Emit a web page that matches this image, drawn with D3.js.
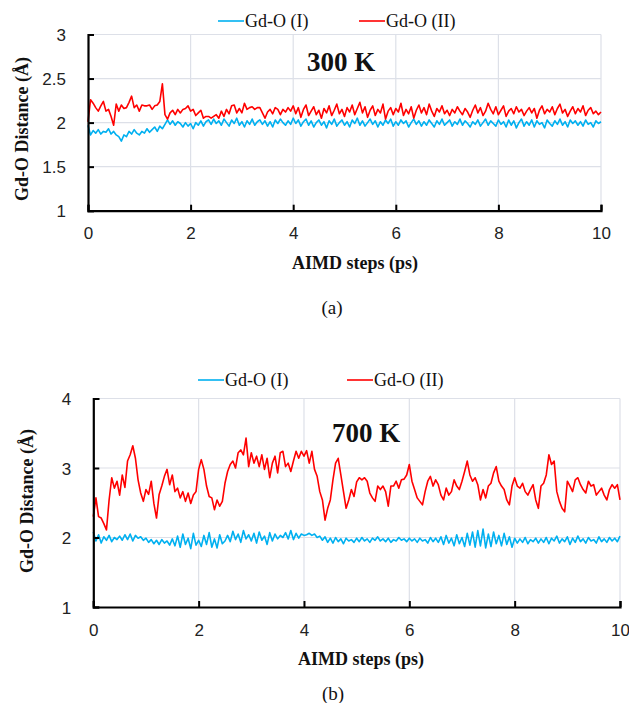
<!DOCTYPE html>
<html>
<head>
<meta charset="utf-8">
<script src="https://cdn.jsdelivr.net/npm/d3@7"></script>
<style>
  html, body { margin: 0; padding: 0; background: #fff; }
  svg { display: block; }
  .tick text { font-family: "Liberation Sans", Arial, sans-serif; font-size: 17px; fill: #222; }
  .serif { font-family: "Liberation Serif", "Times New Roman", serif; fill: #111; }
</style>
</head>
<body>
<svg id="chart" width="629" height="703"></svg>
<script>
// ---- data (Gd-O distances in Å, one value every 0.05 ps) ----
const timeStep = 0.05;
const xTicks = [0, 2, 4, 6, 8, 10];
const yTicks300 = [1, 1.5, 2, 2.5, 3];
const yTicks700 = [1, 2, 3, 4];
const seriesNames = ['Gd-O (I)', 'Gd-O (II)'];
const seriesColors = ['#00B0F0', '#FF0000'];

const gdO1_300K = [
  1.97, 1.86, 1.91, 1.88, 1.92, 1.87, 1.90, 1.89, 1.93, 1.87, 1.90,
  1.86, 1.84, 1.79, 1.86, 1.84, 1.90, 1.87, 1.92, 1.88, 1.86,
  1.90, 1.88, 1.93, 1.89, 1.92, 1.95, 1.90, 1.96, 1.93, 1.98,
  2.03, 1.98, 2.02, 1.97, 2.01, 1.99, 1.95, 2.00, 1.96, 1.99,
  1.93, 2.00, 1.97, 2.02, 1.96, 2.01, 2.03, 1.98, 2.04, 1.99,
  2.02, 1.97, 2.04, 2.00, 1.96, 2.03, 1.99, 2.05, 1.97, 2.01,
  1.95, 2.02, 1.98, 2.04, 1.97, 2.01, 2.03, 1.98, 2.02, 1.96,
  2.01, 1.95, 2.03, 1.99, 2.04, 2.00, 1.97, 2.02, 1.98, 2.05,
  1.99, 2.03, 1.96, 2.01, 2.04, 1.97, 2.02, 1.95, 2.00, 2.03,
  1.97, 2.01, 1.94, 2.02, 1.98, 2.04, 1.96, 2.00, 2.03, 1.97,
  2.01, 1.95, 2.03, 1.99, 2.05, 1.97, 2.02, 1.96, 2.00, 2.04,
  1.98, 2.02, 1.95, 2.01, 1.97, 2.03, 1.99, 2.04, 1.96, 2.01,
  1.97, 2.03, 1.99, 2.02, 1.95, 2.00, 2.04, 1.98, 2.02, 1.96,
  2.01, 1.97, 2.03, 1.99, 1.95, 2.02, 1.98, 2.04, 1.97, 2.00,
  2.03, 1.96, 2.01, 1.98, 2.04, 1.97, 2.02, 1.99, 1.95, 2.01,
  1.98, 2.03, 1.96, 2.00, 2.04, 1.97, 2.02, 1.99, 1.96, 2.03,
  1.98, 2.01, 1.95, 2.03, 1.97, 2.02, 1.94, 2.00, 2.04, 1.96,
  2.01, 1.97, 2.03, 1.95, 2.02, 1.98, 2.00, 1.94, 2.03, 1.99,
  1.96, 2.02, 1.98, 2.04, 1.97, 2.01, 1.95, 2.03, 1.99, 2.02,
  1.97, 2.01, 1.96, 2.03, 1.98, 2.00, 1.95, 2.02, 1.99, 2.01
];

const gdO2_300K = [
  2.01, 2.26, 2.22, 2.17, 2.13, 2.19, 2.24, 2.13, 2.15, 2.07, 1.97,
  2.21, 2.13, 2.20, 2.16, 2.17, 2.23, 2.30, 2.17, 2.20, 2.13,
  2.20, 2.19, 2.19, 2.20, 2.15, 2.19, 2.20, 2.24, 2.44, 2.09,
  2.04, 2.11, 2.14, 2.09, 2.15, 2.11, 2.15, 2.16, 2.19, 2.13,
  2.15, 2.08, 2.11, 2.14, 2.05, 2.07, 2.07, 2.05, 2.07, 2.09,
  2.05, 2.13, 2.07, 2.15, 2.10, 2.19, 2.20, 2.11, 2.16, 2.11,
  2.22, 2.15, 2.17, 2.18, 2.15, 2.17, 2.17, 2.11, 2.05, 2.12,
  2.15, 2.10, 2.17, 2.15, 2.09, 2.15, 2.12, 2.17, 2.13, 2.19,
  2.10, 2.17, 2.06, 2.15, 2.20, 2.08, 2.13, 2.18, 2.09, 2.14,
  2.05, 2.16, 2.11, 2.19, 2.08, 2.14, 2.21, 2.10, 2.15, 2.07,
  2.17, 2.12, 2.20, 2.09, 2.16, 2.23, 2.11, 2.18, 2.06, 2.14,
  2.19, 2.08, 2.15, 2.11, 2.21, 2.04, 2.13, 2.17, 2.09, 2.16,
  2.12, 2.22, 2.08, 2.15, 2.10, 2.18, 2.05, 2.14, 2.20, 2.11,
  2.17, 2.09, 2.21, 2.13, 2.07, 2.16, 2.12, 2.19, 2.10, 2.14,
  2.08, 2.15, 2.11, 2.18, 2.13, 2.09, 2.16, 2.12, 2.06, 2.14,
  2.20, 2.11, 2.17, 2.08, 2.13, 2.22, 2.15, 2.10, 2.18, 2.09,
  2.14, 2.19, 2.07, 2.13, 2.16, 2.10, 2.18, 2.12, 2.15, 2.08,
  2.13, 2.17, 2.11, 2.16, 2.05, 2.14, 2.19, 2.10, 2.15, 2.12,
  2.18, 2.09, 2.16, 2.21, 2.11, 2.15, 2.07, 2.13, 2.18, 2.10,
  2.16, 2.12, 2.19, 2.08, 2.14, 2.17, 2.10, 2.13, 2.09, 2.12
];

const gdO1_700K = [
  2.08, 1.95, 2.04, 1.92, 2.01, 1.96, 2.03, 1.94, 2.00, 1.97, 2.02,
  1.96, 2.04, 1.97, 2.05, 1.95, 2.03, 1.99, 2.01, 1.96, 1.99,
  1.93, 1.97, 1.91, 1.96, 1.90, 1.97, 1.92, 1.95, 1.89, 1.98,
  1.88, 2.02, 1.86, 2.05, 1.90, 1.99, 1.84, 2.06, 1.89, 1.96,
  1.87, 2.03, 1.90, 2.07, 1.86, 1.98, 1.85, 2.04, 1.91, 1.95,
  2.03, 1.94, 2.09, 1.97, 2.05, 1.93, 2.10, 1.98, 2.04, 1.95,
  2.06, 1.92, 2.08, 1.96, 2.02, 1.90, 2.07, 1.95, 2.05, 1.98,
  2.03, 2.00, 2.07, 1.98, 2.10, 1.97, 2.06, 1.99, 2.05, 2.03,
  2.04, 2.06, 2.03, 2.05, 2.00, 2.02, 1.96, 2.01, 1.93, 1.99,
  1.92, 2.00, 1.94, 1.98, 1.91, 1.99, 1.95, 1.97, 1.93, 1.99,
  1.94, 2.00, 1.95, 1.98, 1.93, 1.99, 1.96, 2.01, 1.95, 1.98,
  1.94, 1.99, 1.93, 1.97, 1.95, 2.00, 1.96, 1.98, 1.94, 1.99,
  1.95, 1.98, 1.93, 1.99, 1.95, 1.97, 1.92, 2.00, 1.94, 1.99,
  1.93, 2.01, 1.90, 2.03, 1.92, 1.99, 1.88, 2.04, 1.91, 2.00,
  1.87, 2.06, 1.89, 2.08, 1.86, 2.10, 1.88, 2.12, 1.85, 2.05,
  1.87, 2.08, 1.91, 2.03, 1.88, 2.06, 1.90, 2.01, 1.86, 1.99,
  1.92, 1.98, 1.93, 2.00, 1.91, 1.97, 1.94, 1.99, 1.92, 1.98,
  1.93, 2.00, 1.91, 1.99, 1.95, 2.02, 1.92, 1.98, 1.94, 2.01,
  1.90, 1.99, 1.93, 2.02, 1.94, 1.98, 1.92, 2.00, 1.95, 1.97,
  1.92, 2.01, 1.94, 1.98, 1.93, 2.00, 1.95, 1.99, 1.94, 2.02
];

const gdO2_700K = [
  2.30, 2.57, 2.30, 2.28, 2.20, 2.11, 2.54, 2.86, 2.71, 2.81, 2.61,
  2.90, 2.72, 3.10, 3.19, 3.32, 3.14, 2.83, 2.64, 2.52, 2.69,
  2.62, 2.81, 2.49, 2.28, 2.62, 2.74, 2.88, 2.98, 2.76, 2.90,
  2.66, 2.71, 2.57, 2.66, 2.52, 2.64, 2.49, 2.61, 2.66, 2.98,
  3.12, 2.98, 2.74, 2.59, 2.57, 2.40, 2.54, 2.45, 2.52, 2.78,
  2.95, 3.05, 3.10, 3.00, 3.22, 3.26, 3.19, 3.43, 3.02, 3.22,
  3.07, 3.17, 3.02, 3.19, 2.98, 3.14, 2.86, 3.07, 3.17, 2.93,
  3.22, 3.24, 3.02, 3.07, 2.95, 3.10, 3.24, 3.14, 3.24, 3.17,
  3.25, 3.07, 3.24, 2.98, 2.88, 2.66, 2.54, 2.25, 2.42, 2.54,
  2.83, 3.07, 3.14, 2.90, 2.66, 2.42, 2.54, 2.69, 2.59, 2.80,
  2.86, 2.83, 2.86, 2.81, 2.64, 2.57, 2.52, 2.74, 2.69, 2.74,
  2.66, 2.45, 2.74, 2.74, 2.81, 2.71, 2.83, 2.84, 2.90, 3.05,
  2.81, 2.69, 2.57, 2.52, 2.47, 2.66, 2.81, 2.88, 2.74, 2.83,
  2.76, 2.61, 2.54, 2.71, 2.61, 2.66, 2.83, 2.74, 2.69, 2.81,
  2.95, 3.10, 2.90, 2.81, 2.86, 2.76, 2.54, 2.69, 2.57, 2.74,
  2.78, 2.93, 3.02, 2.81, 2.74, 2.69, 2.54, 2.47, 2.74, 2.86,
  2.74, 2.71, 2.78, 2.66, 2.61, 2.69, 2.76, 2.54, 2.42, 2.74,
  2.78, 2.90, 3.19, 3.05, 3.10, 2.66, 2.52, 2.42, 2.37, 2.81,
  2.74, 2.66, 2.83, 2.86, 2.76, 2.69, 2.64, 2.81, 2.74, 2.76,
  2.61, 2.66, 2.71, 2.61, 2.54, 2.69, 2.76, 2.71, 2.76, 2.54
];

const svg = d3.select('#chart');

// one panel per temperature
function drawPanel(cfg) {
  const x = d3.scaleLinear().domain([0, 10]).range([cfg.left, cfg.right]);
  const y = d3.scaleLinear().domain(cfg.yDomain).range([cfg.bottom, cfg.top]);
  const g = svg.append('g');

  // gridlines
  g.append('g').selectAll('line.hg')
    .data(cfg.yTicks.slice(1))
    .join('line')
    .attr('x1', cfg.left).attr('x2', cfg.right)
    .attr('y1', d => y(d)).attr('y2', d => y(d))
    .attr('stroke', '#dde0e8').attr('stroke-width', 1.2);
  g.append('g').selectAll('line.vg')
    .data(xTicks.slice(1))
    .join('line')
    .attr('x1', d => x(d)).attr('x2', d => x(d))
    .attr('y1', cfg.top).attr('y2', cfg.bottom)
    .attr('stroke', '#dde0e8').attr('stroke-width', 1.2);

  // series
  const line = d3.line()
    .x((d, i) => x(i * timeStep))
    .y(d => y(d));
  cfg.series.forEach((s, k) => {
    g.append('path')
      .datum(s)
      .attr('fill', 'none')
      .attr('stroke', seriesColors[k])
      .attr('stroke-width', 1.6)
      .attr('stroke-linejoin', 'round')
      .attr('d', line);
  });

  // axes with inner ticks
  const yAxis = d3.axisLeft(y).tickValues(cfg.yTicks).tickSize(-6).tickPadding(22)
    .tickFormat(d3.format('~g'));
  const xAxis = d3.axisBottom(x).tickValues(xTicks).tickSize(-6).tickPadding(20)
    .tickFormat(d3.format('d'));

  const ya = g.append('g').attr('transform', `translate(${cfg.left},0)`).call(yAxis);
  const xa = g.append('g').attr('transform', `translate(0,${cfg.bottom})`).call(xAxis);
  [ya, xa].forEach(a => {
    a.select('.domain').attr('stroke', '#000').attr('stroke-width', 2.2);
    a.selectAll('.tick line').attr('stroke', '#000').attr('stroke-width', 2);
  });
  ya.selectAll('.tick text').attr('dy', '0.36em');
  xa.selectAll('.tick text').attr('dy', '0.5em');

  // legend
  cfg.legendX.forEach((lx, k) => {
    g.append('line')
      .attr('x1', lx).attr('x2', lx + 26)
      .attr('y1', cfg.legendY).attr('y2', cfg.legendY)
      .attr('stroke', seriesColors[k]).attr('stroke-width', 1.6);
    g.append('text').attr('class', 'serif')
      .attr('x', lx + 27).attr('y', cfg.legendY + 6)
      .attr('font-size', 18)
      .text(seriesNames[k]);
  });

  // temperature label
  g.append('text').attr('class', 'serif')
    .attr('x', cfg.labelX).attr('y', cfg.labelY)
    .attr('font-size', 27).attr('font-weight', 'bold')
    .text(cfg.label);

  // axis titles
  g.append('text').attr('class', 'serif')
    .attr('transform', `translate(${cfg.yTitleX},${cfg.yTitleY}) rotate(-90)`)
    .attr('text-anchor', 'middle')
    .attr('font-size', 18).attr('font-weight', 'bold')
    .text('Gd-O Distance (Å)');
  g.append('text').attr('class', 'serif')
    .attr('x', cfg.xTitleX).attr('y', cfg.xTitleY)
    .attr('text-anchor', 'middle')
    .attr('font-size', 18).attr('font-weight', 'bold')
    .text('AIMD steps (ps)');

  // sub-figure caption
  g.append('text').attr('class', 'serif')
    .attr('x', cfg.capX).attr('y', cfg.capY)
    .attr('text-anchor', 'middle')
    .attr('font-size', 19)
    .text(cfg.caption);
}

drawPanel({
  left: 88, right: 601, top: 34.5, bottom: 210.7,
  yDomain: [1, 3], yTicks: yTicks300,
  series: [gdO1_300K, gdO2_300K],
  legendX: [218, 359], legendY: 21,
  label: '300 K', labelX: 307, labelY: 71,
  yTitleX: 28, yTitleY: 129,
  xTitleX: 355, xTitleY: 269,
  caption: '(a)', capX: 332, capY: 314
});

drawPanel({
  left: 93.3, right: 620, top: 398.5, bottom: 607,
  yDomain: [1, 4], yTicks: yTicks700,
  series: [gdO1_700K, gdO2_700K],
  legendX: [198, 347], legendY: 380,
  label: '700 K', labelX: 332, labelY: 442,
  yTitleX: 33, yTitleY: 501,
  xTitleX: 361, xTitleY: 665,
  caption: '(b)', capX: 333, capY: 700
});
</script>
</body>
</html>
